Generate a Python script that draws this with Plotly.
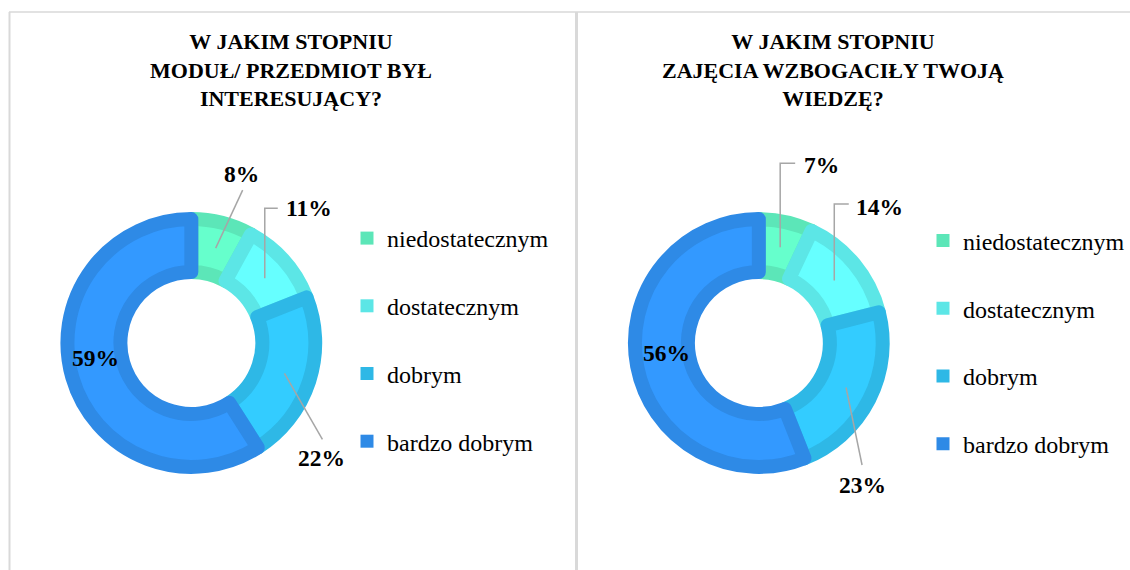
import math
import plotly.graph_objects as go

W, H = 1130, 570

# ---- data ----
categories = ["niedostatecznym", "dostatecznym", "dobrym", "bardzo dobrym"]
values_left = [8, 11, 22, 59]
values_right = [7, 14, 23, 56]
title_left = "W JAKIM STOPNIU<br>MODUŁ/ PRZEDMIOT BYŁ<br>INTERESUJĄCY?"
title_right = "W JAKIM STOPNIU<br>ZAJĘCIA WZBOGACIŁY TWOJĄ<br>WIEDZĘ?"

# ---- styles ----
fill_colors = ["#66FFCC", "#66FFFF", "#33CCFF", "#3399FF"]
edge_colors = ["#5CE6B8", "#5CE6E6", "#2EB8E6", "#2E8AE6"]
FONT = "Liberation Serif"
LINE_W = 14
R_VIS = 131
R_HOLE_VIS = 64
R = R_VIS - LINE_W / 2
HOLE = (R_HOLE_VIS + LINE_W / 2) / R
R_TIP = 98
LEADER = "#A6A6A6"
BORDER = "#D9D9D9"


def fx(x):
    return x / W


def fy(y):
    return 1 - y / H


# label layout per slice: (kind, end_dx, end_dy, text_dx, text_dy) in px relative to tip
layout_left = [("straight", 27, -58, 26, -74),
               ("elbow", 13, -70, 44.5, -70),
               ("straight", 38, 66, 37, 85),
               ("none", 0, 0, -2, -12)]
layout_right = [("elbow", 15, -84, 41, -82),
                ("elbow", 14.5, -76.5, 45.5, -73.5),
                ("straight", 16, 77.5, 16, 97.5),
                ("none", 0, 0, 4, -8)]

panels = [
    dict(values=values_left, title=title_left, title_x=291, center=(191.5, 343),
         legend="legend", lab=layout_left),
    dict(values=values_right, title=title_right, title_x=834, center=(759.5, 343),
         legend="legend2", lab=layout_right),
]

fig = go.Figure()
annotations = []
shapes = []

for p in panels:
    cx, cy = p["center"]
    fig.add_trace(go.Pie(
        labels=categories, values=p["values"], hole=HOLE, sort=False,
        direction="clockwise", rotation=0, textinfo="none", showlegend=False,
        hoverinfo="label+percent",
        marker=dict(colors=fill_colors, line=dict(color=edge_colors, width=LINE_W)),
        domain=dict(x=[fx(cx - R), fx(cx + R)], y=[fy(cy + R), fy(cy - R)]),
    ))
    total = sum(p["values"])
    cum = 0
    for v, (kind, ex, ey, tx, ty) in zip(p["values"], p["lab"]):
        mid = (cum + v / 2) / total * 2 * math.pi
        cum += v
        tipx = cx + R_TIP * math.sin(mid)
        tipy = cy - R_TIP * math.cos(mid)
        if kind == "straight":
            path = f"M {fx(tipx)},{fy(tipy)} L {fx(tipx + ex)},{fy(tipy + ey)}"
        elif kind == "elbow":
            path = (f"M {fx(tipx)},{fy(tipy)} L {fx(tipx)},{fy(tipy + ey)} "
                    f"L {fx(tipx + ex)},{fy(tipy + ey)}")
        else:
            path = None
        if path:
            shapes.append(dict(type="path", xref="paper", yref="paper", path=path,
                               line=dict(color=LEADER, width=1.5)))
        annotations.append(dict(
            x=fx(tipx + tx), y=fy(tipy + ty), xref="paper", yref="paper",
            text=f"<b>{round(v / total * 100)}%</b>", showarrow=False,
            xanchor="center", yanchor="middle",
            font=dict(family=FONT, size=23.5, color="#000000")))
    annotations.append(dict(
        x=fx(p["title_x"]), y=fy(27), xref="paper", yref="paper",
        text=f"<b>{p['title']}</b>", showarrow=False, xanchor="center", yanchor="top",
        align="center", font=dict(family=FONT, size=22, color="#000000")))
    for cat, col in zip(categories, edge_colors):
        fig.add_trace(go.Scatter(
            x=[None], y=[None], mode="markers", name=cat, legend=p["legend"],
            legendgroup=p["legend"] + cat,
            marker=dict(symbol="square", size=13, color=col)))

# panel borders
shapes += [
    dict(type="line", xref="paper", yref="paper", x0=fx(9.5), x1=fx(9.5), y0=fy(12), y1=fy(575),
         line=dict(color=BORDER, width=2)),
    dict(type="line", xref="paper", yref="paper", x0=fx(9), x1=fx(1135), y0=fy(12), y1=fy(12),
         line=dict(color=BORDER, width=1.5)),
    dict(type="line", xref="paper", yref="paper", x0=fx(577), x1=fx(577), y0=fy(12), y1=fy(575),
         line=dict(color=BORDER, width=3)),
]

legend_common = dict(traceorder="grouped", tracegroupgap=33.5, xanchor="left", yanchor="top",
                     bgcolor="rgba(0,0,0,0)", itemclick=False, itemdoubleclick=False,
                     font=dict(family=FONT, size=24, color="#000000"))

fig.update_layout(
    width=W, height=H, margin=dict(l=0, r=0, t=0, b=0),
    paper_bgcolor="white", plot_bgcolor="white",
    xaxis=dict(visible=False), yaxis=dict(visible=False),
    shapes=shapes, annotations=annotations,
    legend=dict(x=fx(347), y=fy(216), **legend_common),
    legend2=dict(x=fx(924), y=fy(218.5), **legend_common),
)

fig.write_html("out.html", config={"displayModeBar": False},
               post_script="document.body.style.margin='0';")
